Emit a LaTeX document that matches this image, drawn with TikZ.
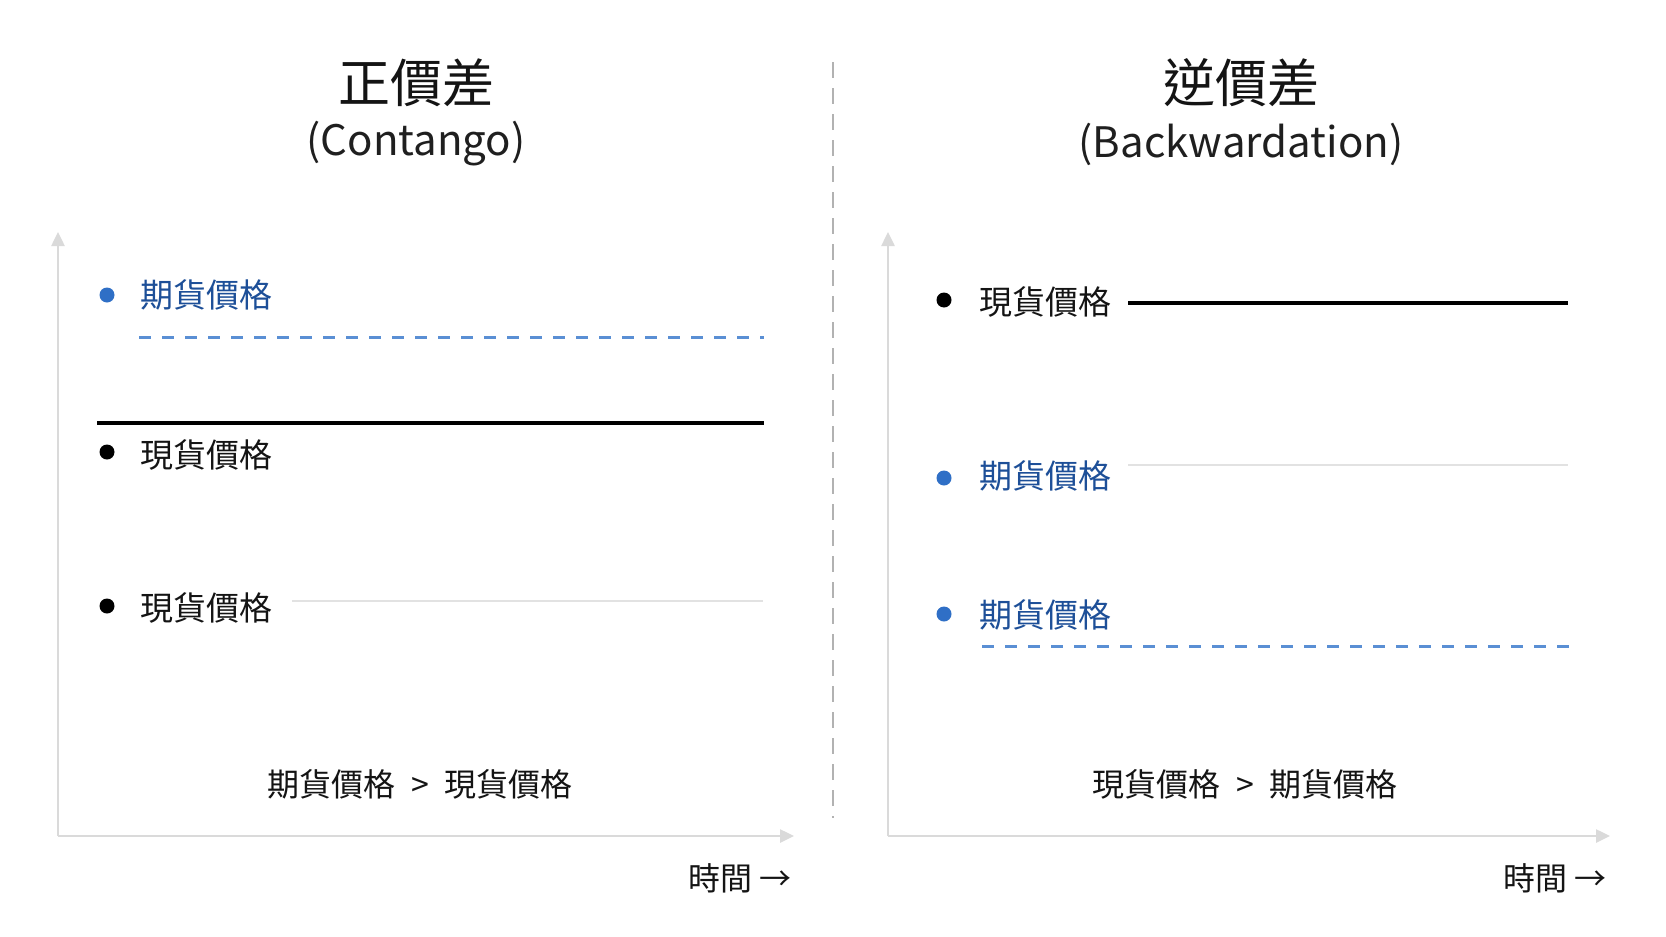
\documentclass[tikz,border=0pt]{standalone}
\usepackage{fontspec}
\setmainfont{Noto Sans CJK TC}
\usetikzlibrary{arrows.meta}
\definecolor{fblue}{HTML}{2F6FC6}
\definecolor{ftext}{HTML}{1D4F98}
\definecolor{dblue}{HTML}{5A8FD4}
\definecolor{axisgray}{HTML}{DADADA}
\definecolor{faint}{HTML}{E2E2E2}
\tikzset{
  ttl/.style={font=\fontsize{52}{56}\selectfont, text=black!92, inner sep=0pt},
  sub/.style={font=\fontsize{42}{48}\selectfont, text=black!88, inner sep=0pt},
  lbl/.style={font=\fontsize{33}{36}\selectfont, anchor=west, inner sep=0pt},
  cmp/.style={font=\fontsize{32}{36}\selectfont, inner sep=0pt, text=black!92},
  tm/.style={font=\fontsize{32}{34}\selectfont, anchor=east, inner sep=0pt, text=black!92},
  bdot/.style={circle, fill=fblue, minimum size=15pt, inner sep=0pt},
  kdot/.style={circle, fill=black, minimum size=15pt, inner sep=0pt},
  axisline/.style={draw=axisgray, line width=2.5pt, -{Triangle[width=13pt,length=14pt]}},
  spotline/.style={draw=black, line width=4pt},
  futline/.style={draw=dblue, line width=3pt, dash pattern=on 12pt off 11pt},
  faintline/.style={draw=faint, line width=1.5pt},
  divider/.style={draw=black!30, line width=1.2pt, dash pattern=on 16pt off 10pt}
}
\begin{document}
\begin{tikzpicture}[x=1pt,y=-1pt]
\useasboundingbox[fill=white] (0,0) rectangle (1666,937);
% titles
\node[ttl] (t1) at (416,83) {正價差};
\node[sub] (s1) at (416,144) {(Contango)};
\node[ttl] (t2) at (1241,83) {逆價差};
\node[sub] (s2) at (1241,144) {(Backwardation)};
% divider
\coordinate (dv1) at (833,62);
\coordinate (dv2) at (833,818);
\draw[divider] (dv1) -- (dv2);
% axes left
\coordinate (o1) at (58,836);
\coordinate (y1) at (58,232);
\coordinate (x1) at (794,836);
\draw[axisline] (o1) -- (y1);
\draw[axisline] (o1) -- (x1);
% axes right
\coordinate (o2) at (888,836);
\coordinate (y2) at (888,232);
\coordinate (x2) at (1610,836);
\draw[axisline] (o2) -- (y2);
\draw[axisline] (o2) -- (x2);
% left panel
\node[bdot] (ld1) at (107,295) {};
\node[lbl, text=ftext] (lt1) at (140,295) {期貨價格};
\coordinate (lf1) at (139,337);
\coordinate (lf2) at (764,337);
\draw[futline] (lf1) -- (lf2);
\coordinate (ls1) at (97,423);
\coordinate (ls2) at (764,423);
\draw[spotline] (ls1) -- (ls2);
\node[kdot] (ld2) at (107,452) {};
\node[lbl, text=black!92] (lt2) at (140,455) {現貨價格};
\node[kdot] (ld3) at (107,606) {};
\node[lbl, text=black!92] (lt3) at (140,608) {現貨價格};
\coordinate (lg1) at (292,601);
\coordinate (lg2) at (763,601);
\draw[faintline] (lg1) -- (lg2);
\node[cmp] (lc) at (420,784) {期貨價格\hspace{0.5em}>\hspace{0.5em}現貨價格};
\node[tm] (ltm) at (792,878) {時間 →};
% right panel
\node[kdot] (rd1) at (944,300) {};
\node[lbl, text=black!92] (rt1) at (979,302) {現貨價格};
\coordinate (rs1) at (1128,303);
\coordinate (rs2) at (1568,303);
\draw[spotline] (rs1) -- (rs2);
\node[bdot] (rd2) at (944,478) {};
\node[lbl, text=ftext] (rt2) at (979,476) {期貨價格};
\coordinate (rg1) at (1128,465);
\coordinate (rg2) at (1568,465);
\draw[faintline] (rg1) -- (rg2);
\node[bdot] (rd3) at (944,614) {};
\node[lbl, text=ftext] (rt3) at (979,615) {期貨價格};
\coordinate (rf1) at (982,646);
\coordinate (rf2) at (1571,646);
\draw[futline] (rf1) -- (rf2);
\node[cmp] (rc) at (1245,784) {現貨價格\hspace{0.5em}>\hspace{0.5em}期貨價格};
\node[tm] (rtm) at (1607,878) {時間 →};
\end{tikzpicture}
\end{document}
